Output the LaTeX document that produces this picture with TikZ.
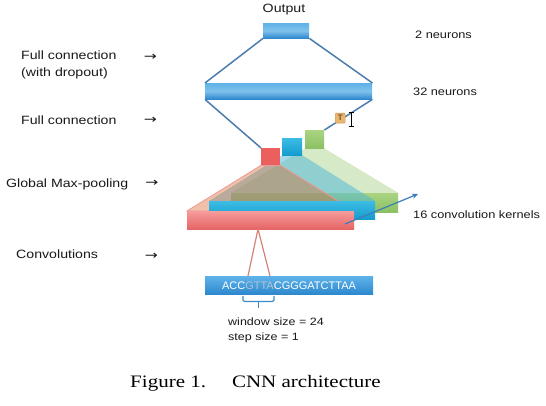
\documentclass[tikz,border=0pt]{standalone}
\usepackage{fontspec}
\setmainfont[FakeStretch=1.18]{Liberation Sans}
\newfontfamily\seqfont{Liberation Sans}
\newfontfamily\capfont[FakeStretch=1.2]{Liberation Serif}
\newfontfamily\arrfont[FakeStretch=1.3]{DejaVu Sans}
\usetikzlibrary{arrows.meta}
\definecolor{txt}{RGB}{25,25,25}
\definecolor{bluetop}{RGB}{95,178,232}
\definecolor{bluemid}{RGB}{70,158,220}
\definecolor{bluebot}{RGB}{45,135,205}
\definecolor{conn}{RGB}{75,125,175}
\definecolor{redtop}{RGB}{247,155,155}
\definecolor{redbot}{RGB}{230,100,100}
\definecolor{redbox}{RGB}{236,95,95}
\definecolor{cyantop}{RGB}{60,188,228}
\definecolor{cyanbot}{RGB}{20,155,205}
\definecolor{greentop}{RGB}{170,212,130}
\definecolor{greenbot}{RGB}{140,192,100}
\definecolor{redtrap}{RGB}{217,100,40}
\definecolor{rededge}{RGB}{240,150,150}
\definecolor{cyantrap}{RGB}{75,182,215}
\definecolor{greentrap}{RGB}{160,205,122}
\definecolor{winline}{RGB}{215,130,120}
\definecolor{brace}{RGB}{60,140,200}
\definecolor{faded}{RGB}{178,196,214}
\definecolor{ticon}{RGB}{232,182,112}
\definecolor{ticonedge}{RGB}{205,150,85}
\definecolor{ttext}{RGB}{120,80,40}
\definecolor{kern}{RGB}{60,125,185}
\pgfdeclarelayer{bg}
\pgfdeclarelayer{under}
\pgfdeclarelayer{trap}
\pgfsetlayers{bg,under,trap,main}
\begin{document}
\begin{tikzpicture}[x=1pt,y=-1pt,
  layerbox/.style={rectangle, inner sep=0, anchor=north west},
  bluebar/.style={layerbox, top color=bluetop, bottom color=bluebot, middle color=bluetop!80!white},
  seqbar/.style={layerbox, top color=bluetop, bottom color=bluebot, middle color=bluemid},
  redblock/.style={layerbox, top color=redtop, bottom color=redbot},
  cyanblock/.style={layerbox, top color=cyantop, bottom color=cyanbot},
  greenblock/.style={layerbox, top color=greentop, bottom color=greenbot},
  lab/.style={text=txt, font=\fontsize{12}{16.3}\selectfont, inner sep=0, anchor=west, align=left},
  rlab/.style={text=txt, font=\fontsize{10.8}{13}\selectfont, inner sep=0, anchor=west, align=left},
  arrlab/.style={text=txt, font=\arrfont\fontsize{12}{12}\selectfont, inner sep=0},
  link/.style={draw=conn, line width=1.5pt},
  trapfill/.style={fill opacity=0.5}
]
\useasboundingbox (0,0) rectangle (546,406);
\begin{pgfonlayer}{bg}
\fill[white] (0,0) rectangle (546,406);
\end{pgfonlayer}

% dense layers
\node[bluebar, minimum width=46pt, minimum height=15pt] (out) at (263,23) {};
\node[bluebar, minimum width=167pt, minimum height=16pt] (fc) at (205,83) {};
\node[text=txt, font=\fontsize{12}{14}\selectfont, inner sep=0] (outlab) at (284,10) {Output};

% convolution bars
\begin{pgfonlayer}{under}
\node[greenblock, minimum width=167pt, minimum height=19pt] (gbar) at (231,193) {};
\end{pgfonlayer}
\node[cyanblock, minimum width=166pt, minimum height=18pt] (cbar) at (209,201) {};
\node[redblock, minimum width=167pt, minimum height=18pt] (rbar) at (187,211) {};

% pooled boxes
\node[greenblock, minimum width=19pt, minimum height=18pt] (gbox) at (305,130) {};
\node[cyanblock, minimum width=20pt, minimum height=17pt] (cbox) at (282,138) {};
\node[layerbox, fill=redbox, minimum width=19pt, minimum height=17pt] (rbox) at (261,148) {};

% translucent views
\begin{pgfonlayer}{trap}
\fill[greentrap, fill opacity=0.42] (gbox.south west) -- (gbar.north west) -- (gbar.north east) -- (gbox.south east) -- cycle;
\fill[cyantrap, trapfill] (cbox.south west) -- (cbar.north west) -- (cbar.north east) -- (cbox.south east) -- cycle;
\filldraw[fill=redtrap, fill opacity=0.4, draw=rededge, line width=0.8pt] (rbox.south west) -- (rbar.north west) -- (rbar.north east) -- (rbox.south east) -- cycle;
\end{pgfonlayer}

% connections between layers
\draw[link] (out.south west) -- (fc.north west);
\draw[link] (out.south east) -- (fc.north east);
\draw[link] (fc.south west) -- (rbox.north west);
\draw[link] (fc.south east) -- (gbox.north east);

% T icon and text cursor
\node[layerbox, fill=ticon, draw=ticonedge, line width=0.4pt, rounded corners=1pt, minimum width=10pt, minimum height=10pt] (ticn) at (335,113) {};
\node[text=ttext, font=\seqfont\bfseries\fontsize{8}{8}\selectfont, inner sep=0] (tlet) at (ticn.center) {T};
\coordinate (cur) at (351.5,119.5);
\draw[black, line width=0.7pt] ([yshift=-6.5pt]cur) -- ([yshift=6.5pt]cur);
\draw[black, line width=0.7pt] ([xshift=-2.2pt,yshift=-7pt]cur) -- ([xshift=2.2pt,yshift=-7pt]cur);
\draw[black, line width=0.7pt] ([xshift=-2.2pt,yshift=7pt]cur) -- ([xshift=2.2pt,yshift=7pt]cur);

% kernel arrow
\coordinate (kstart) at (345,224);
\coordinate (kend) at (418,194);
\draw[kern, line width=1.2pt, -{Stealth[length=6pt,width=5pt]}] (kstart) -- (kend);

% sequence
\node[seqbar, minimum width=168pt, minimum height=18pt] (seq) at (205,276) {};
\node[text=white, font=\seqfont\fontsize{11}{11}\selectfont, inner sep=0] (seqtxt) at (289,285.5) {ACC\textcolor{faded}{GTTA}CGGGATCTTAA};

% window lines
\coordinate (apex) at (258,229);
\coordinate (wl) at (248,276);
\coordinate (wr) at (270,276);
\draw[winline, line width=1.2pt] (apex) -- (wl);
\draw[winline, line width=1.2pt] (apex) -- (wr);

% brace under window
\draw[brace, line width=1.3pt, rounded corners=1.5pt] (243,296) -- (243,301.5) -- (274,301.5) -- (274,296);
\draw[brace, line width=1.3pt] (258.5,301.5) -- (258.5,308);

\node[rlab, font=\fontsize{10.6}{15}\selectfont] (win) at (228,330.5) {window size = 24\\step size = 1};

% left labels
\node[lab] (l1) at (21,65) {Full connection\\(with dropout)};
\node[lab] (l2) at (21,120.5) {Full connection};
\node[lab] (l3) at (6,184) {Global Max-pooling};
\node[lab] (l4) at (16,254) {Convolutions};
\node[arrlab] (a1) at (150.5,57) {→};
\node[arrlab] (a2) at (150.5,120) {→};
\node[arrlab] (a3) at (152,183) {→};
\node[arrlab] (a4) at (151.5,256) {→};

% right labels
\node[rlab] (r1) at (415,35) {2 neurons};
\node[rlab] (r2) at (413,91.5) {32 neurons};
\node[rlab] (r3) at (413,215) {16 convolution kernels};

% caption
\node[text=black, font=\capfont\fontsize{17.5}{19}\selectfont, inner sep=0] (cap) at (255.5,383) {Figure 1.\hspace{26pt}CNN architecture};
\end{tikzpicture}
\end{document}
